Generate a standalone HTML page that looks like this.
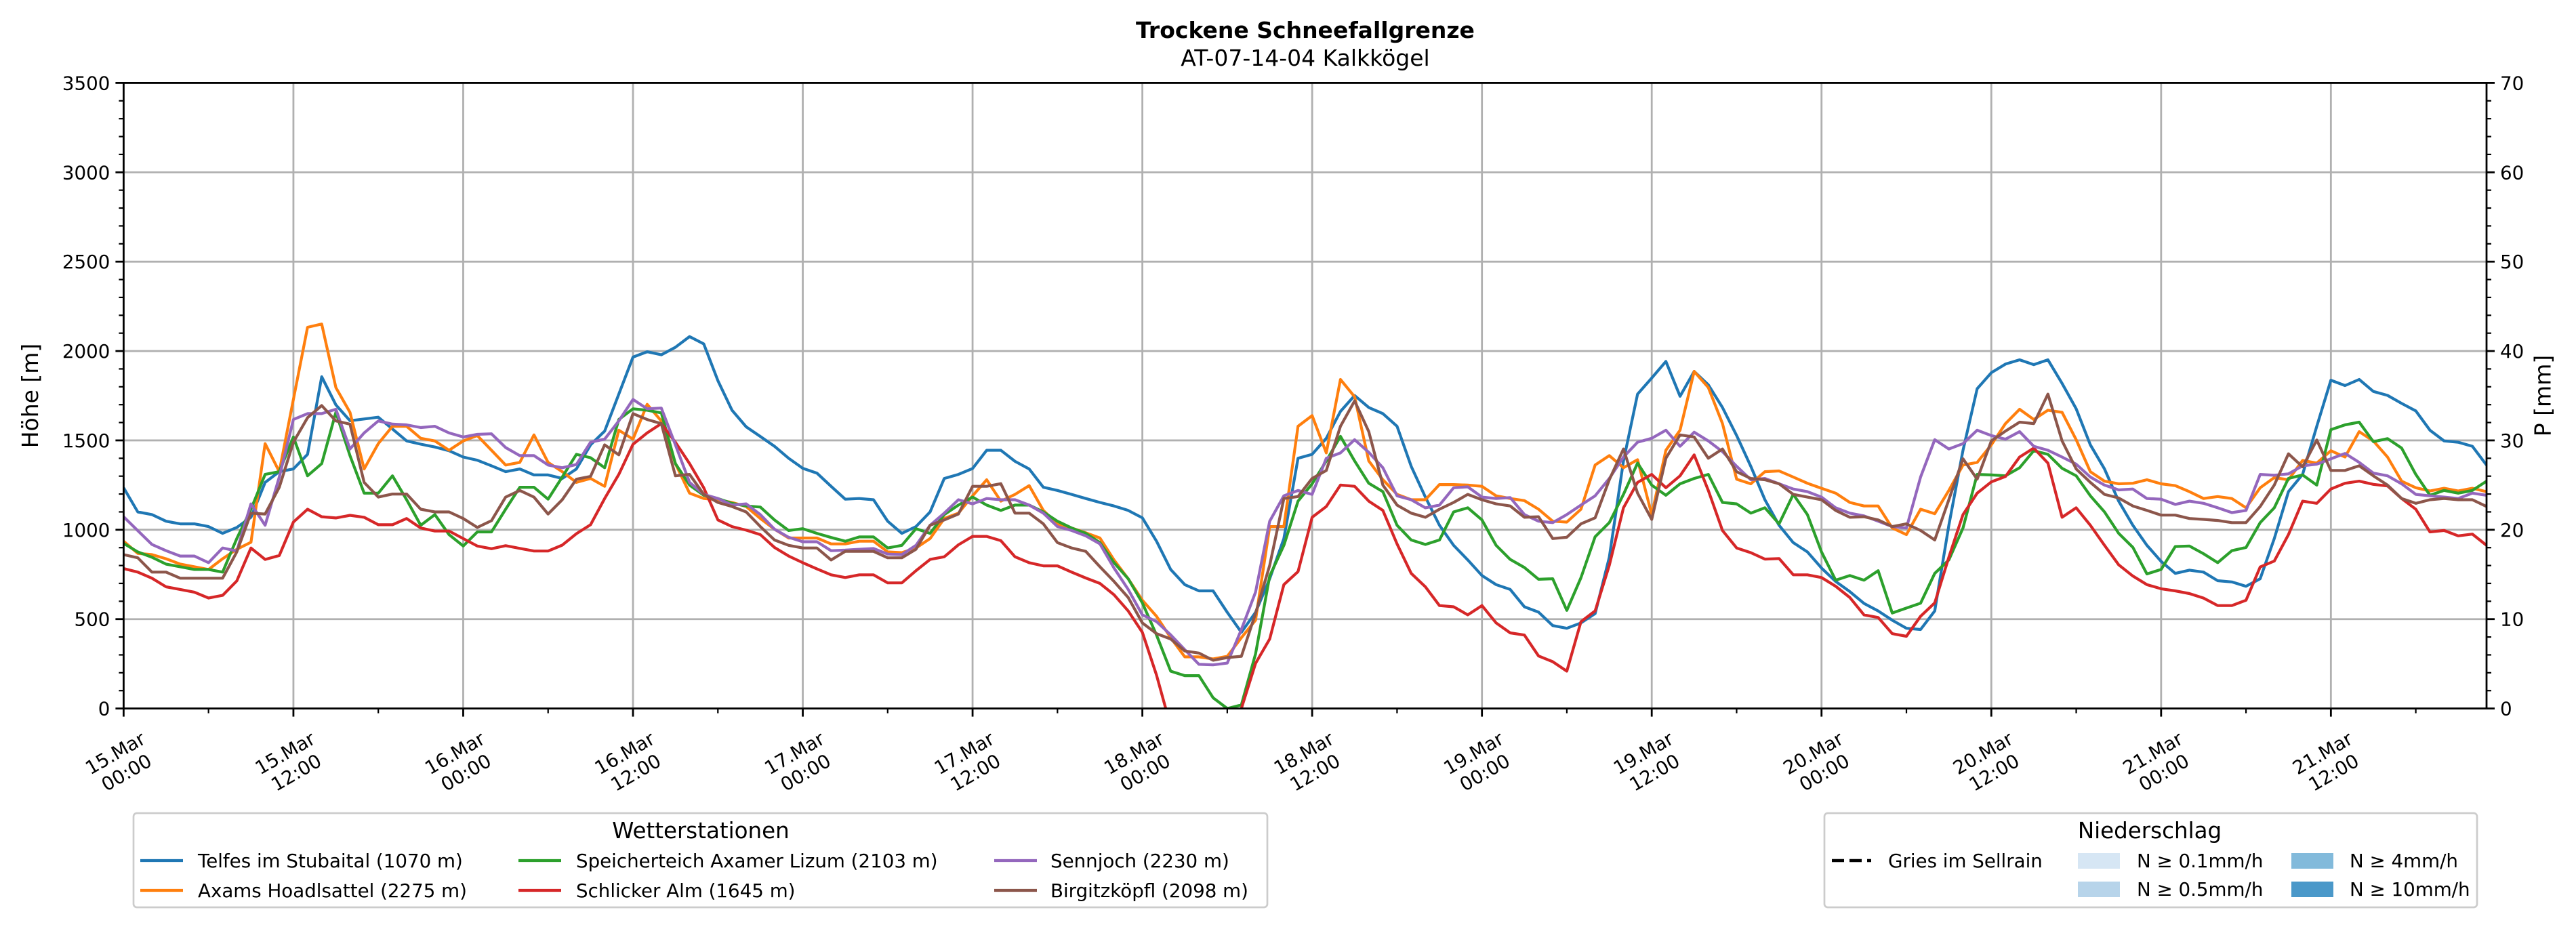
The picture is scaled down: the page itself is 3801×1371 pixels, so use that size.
<!DOCTYPE html>
<html><head><meta charset="utf-8"><style>
html,body{margin:0;padding:0;background:#fff;}
svg{display:block;font-family:"DejaVu Sans","Liberation Sans",sans-serif;}
</style></head><body>
<svg id="chart" width="3801" height="1371" viewBox="0 0 3801 1371" xmlns="http://www.w3.org/2000/svg">
<rect width="3801" height="1371" fill="#fff"/>
<text x="1926" y="56" text-anchor="middle" font-size="33" font-weight="bold">Trockene Schneefallgrenze</text>
<text x="1926" y="97" text-anchor="middle" font-size="33">AT-07-14-04 Kalkkögel</text>
<g id="grid"></g>
<g id="series" clip-path="url(#plotclip)"></g>
<defs><clipPath id="plotclip"><rect x="182.4" y="122.4" width="3486.6" height="923.2"/></clipPath></defs>
<g id="axes"></g>
<text transform="translate(56,584) rotate(-90)" text-anchor="middle" font-size="33">Höhe [m]</text>
<text transform="translate(3752,584) rotate(-90)" text-anchor="middle" font-size="33" dominant-baseline="central">P [mm]</text>

<g>
<rect x="197" y="1200" width="1673" height="139" rx="5" fill="#fff" stroke="#cccccc" stroke-width="2.7"/>
<text x="1034" y="1237" text-anchor="middle" font-size="32.5">Wetterstationen</text>
<g id="leg1"></g>
</g>
<g>
<rect x="2692" y="1200" width="963" height="139" rx="5" fill="#fff" stroke="#cccccc" stroke-width="2.7"/>
<text x="3172" y="1237" text-anchor="middle" font-size="32.5">Niederschlag</text>
<line x1="2703" y1="1270" x2="2761" y2="1270" stroke="#000" stroke-width="4.5" stroke-dasharray="18,8"/>
<text x="2786" y="1280" font-size="27.7">Gries im Sellrain</text>
<rect x="3066" y="1259" width="62" height="23" fill="#d6e6f4"/>
<text x="3153" y="1280" font-size="27.7">N ≥ 0.1mm/h</text>
<rect x="3066" y="1301" width="62" height="23" fill="#b7d4ea"/>
<text x="3153" y="1322" font-size="27.7">N ≥ 0.5mm/h</text>
<rect x="3381" y="1259" width="62" height="23" fill="#82badb"/>
<text x="3467" y="1280" font-size="27.7">N ≥ 4mm/h</text>
<rect x="3381" y="1301" width="62" height="23" fill="#4a98c9"/>
<text x="3467" y="1322" font-size="27.7">N ≥ 10mm/h</text>
</g>
</svg>
<script>
const stationNames = ["Telfes im Stubaital (1070 m)","Axams Hoadlsattel (2275 m)","Speicherteich Axamer Lizum (2103 m)","Schlicker Alm (1645 m)","Sennjoch (2230 m)","Birgitzköpfl (2098 m)"];
const stationColors = ["#1f77b4","#ff7f0e","#2ca02c","#d62728","#9467bd","#8c564b"];
const xTickLabels = ["15.Mar|00:00","15.Mar|12:00","16.Mar|00:00","16.Mar|12:00","17.Mar|00:00","17.Mar|12:00","18.Mar|00:00","18.Mar|12:00","19.Mar|00:00","19.Mar|12:00","20.Mar|00:00","20.Mar|12:00","21.Mar|00:00","21.Mar|12:00"];
const yTicks = [0,500,1000,1500,2000,2500,3000,3500];
const y2Ticks = [0,10,20,30,40,50,60,70];
const telfes = [1235,1100,1085,1048,1033,1033,1018,980,1013,1070,1265,1325,1340,1422,1856,1699,1610,1620,1630,1564,1497,1479,1463,1442,1407,1389,1358,1325,1340,1307,1307,1287,1340,1475,1552,1759,1966,1996,1979,2021,2081,2040,
1834,1669,1576,1522,1467,1400,1344,1317,1243,1171,1175,1168,1048,980,1018,1100,1287,1310,1343,1445,1445,1383,1340,1238,1220,1198,1175,1153,1133,1108,1067,936,778,693,658,658,538,426,538,726,951,1400,
1422,1512,1662,1751,1684,1650,1579,1355,1183,1025,913,831,744,693,666,569,539,464,449,479,531,846,1385,1759,1849,1942,1747,1886,1811,1684,1527,1355,1168,1025,928,876,786,711,654,588,546,494,
449,442,546,1025,1445,1789,1879,1927,1951,1924,1951,1819,1677,1475,1340,1160,1025,913,823,756,774,763,715,708,684,726,951,1213,1310,1579,1837,1807,1841,1774,1752,1707,1665,1557,1497,1490,1467,1362];
const axams = [936,868,861,838,808,793,778,838,891,930,1482,1325,1729,2133,2151,1796,1657,1340,1482,1579,1579,1512,1497,1445,1497,1527,1445,1362,1377,1531,1377,1325,1265,1287,1243,1557,1507,1702,1609,1370,1205,1175,
1168,1153,1130,1063,1003,954,954,954,921,921,936,936,876,872,898,951,1063,1093,1190,1280,1160,1198,1247,1108,1033,1010,983,954,831,726,606,516,396,289,289,277,292,396,494,1018,1018,1579,
1639,1430,1841,1744,1385,1280,1198,1168,1168,1253,1253,1250,1243,1190,1175,1163,1115,1048,1043,1115,1362,1415,1347,1392,1085,1445,1557,1886,1796,1594,1283,1257,1325,1329,1295,1260,1232,1205,1153,1133,1133,1010,
973,1115,1090,1220,1362,1377,1475,1594,1674,1617,1669,1657,1504,1325,1272,1257,1260,1280,1257,1247,1213,1175,1186,1175,1123,1235,1292,1280,1388,1373,1442,1407,1549,1497,1407,1272,1235,1217,1232,1217,1232,1213];
const speicherteich = [924,876,846,808,793,778,778,763,951,1115,1310,1325,1519,1302,1370,1657,1415,1205,1205,1302,1168,1025,1085,973,909,988,988,1115,1238,1238,1171,1295,1422,1403,1347,1617,1677,1669,1654,1370,1250,1193,
1175,1148,1133,1127,1055,996,1006,980,957,936,960,960,898,913,1006,980,1085,1138,1183,1138,1108,1138,1138,1100,1048,1010,980,928,816,726,591,411,209,184,184,60,0,20,305,741,913,1160,
1257,1385,1523,1385,1260,1213,1025,943,918,943,1100,1123,1055,913,834,789,723,726,549,732,961,1040,1198,1373,1250,1193,1257,1287,1310,1153,1145,1093,1123,1033,1198,1085,876,718,744,718,771,534,
562,589,756,831,1010,1310,1307,1302,1347,1442,1422,1344,1302,1190,1100,980,902,753,778,906,909,866,816,883,901,1040,1123,1287,1307,1250,1560,1587,1602,1493,1510,1457,1310,1193,1220,1205,1220,1272];
const schlicker = [783,763,729,681,666,651,618,633,714,898,834,856,1043,1115,1073,1066,1081,1070,1028,1028,1063,1010,993,993,951,909,894,911,896,881,881,914,978,1028,1175,1310,1478,1542,1594,1490,1370,1235,
1055,1018,998,973,901,853,816,781,748,733,748,748,703,703,771,834,849,916,963,963,939,849,816,798,798,763,730,700,636,546,426,187,-100,-250,-300,-200,-100,0,252,389,693,766,
1070,1130,1250,1243,1160,1108,921,756,681,576,569,524,576,479,423,411,294,262,209,486,546,801,1123,1265,1310,1235,1302,1419,1220,996,898,872,836,839,748,748,733,684,621,524,509,419,
404,516,591,846,1085,1205,1268,1298,1407,1457,1373,1070,1123,1025,913,804,741,693,670,658,643,618,576,576,606,792,825,973,1160,1148,1228,1260,1272,1254,1245,1175,1115,988,996,966,976,913];
const sennjoch = [1073,995,918,883,853,853,816,898,881,1145,1025,1295,1617,1650,1650,1674,1452,1542,1609,1591,1587,1572,1579,1542,1519,1534,1537,1460,1415,1415,1362,1347,1365,1490,1507,1609,1729,1677,1681,1475,1265,1198,
1175,1138,1145,1085,1003,958,933,933,883,886,891,895,864,861,913,1025,1093,1168,1145,1175,1168,1168,1138,1093,1018,996,966,921,786,666,524,486,412,329,247,244,254,442,651,1048,1190,1220,
1198,1400,1430,1504,1433,1347,1190,1168,1123,1138,1235,1240,1183,1175,1180,1085,1048,1040,1085,1138,1190,1287,1407,1490,1512,1557,1467,1546,1497,1437,1355,1280,1287,1257,1228,1213,1183,1123,1093,1078,1048,1018,
1010,1295,1504,1452,1482,1557,1527,1507,1549,1467,1445,1407,1367,1295,1250,1223,1228,1175,1171,1142,1160,1148,1123,1096,1108,1310,1305,1313,1358,1367,1397,1427,1377,1317,1302,1257,1198,1190,1183,1175,1205,1193];
const birgitzkoepfl = [861,843,763,763,729,729,729,729,876,1093,1088,1238,1490,1627,1695,1609,1591,1265,1183,1200,1200,1115,1100,1100,1063,1013,1051,1183,1220,1183,1088,1168,1283,1299,1475,1419,1650,1617,1594,1302,1310,1198,
1153,1130,1100,1018,943,913,898,898,831,879,879,879,843,843,891,1025,1055,1088,1243,1243,1258,1093,1093,1033,928,898,879,793,711,621,479,419,389,322,310,270,285,292,532,801,1175,1186,
1287,1332,1579,1721,1549,1250,1138,1093,1070,1115,1153,1198,1168,1145,1133,1070,1073,951,958,1033,1067,1280,1452,1205,1058,1400,1531,1519,1400,1452,1325,1287,1280,1257,1198,1183,1168,1108,1070,1073,1055,1018,
1033,996,943,1168,1397,1283,1497,1552,1602,1594,1759,1497,1340,1265,1198,1178,1133,1108,1082,1082,1063,1058,1052,1040,1040,1130,1250,1425,1352,1502,1332,1332,1358,1302,1250,1175,1148,1168,1175,1168,1168,1130];
const allSeries = [telfes, axams, speicherteich, schlicker, sennjoch, birgitzkoepfl];

const NS="http://www.w3.org/2000/svg";
const L=182.4,R=3669,T=122.4,B=1045.6, HMAX=167;
const xs=h=>L+(R-L)*h/HMAX;
const ys=v=>B-(B-T)*v/3500;
const y2s=v=>B-(B-T)*v/70;
function mk(tag,attrs,parent){const e=document.createElementNS(NS,tag);for(const k in attrs)e.setAttribute(k,attrs[k]);parent.appendChild(e);return e;}
const grid=document.getElementById('grid'), axes=document.getElementById('axes'), ser=document.getElementById('series');
// grid
xTickLabels.forEach((lab,i)=>{const x=xs(i*12);const g=mk('line',{x1:x,x2:x,y1:T,y2:B,stroke:'#b0b0b0','stroke-width':2.8},grid);

});
yTicks.forEach(v=>{const y=ys(v);const g=mk('line',{x1:L,x2:R,y1:y,y2:y,stroke:'#b0b0b0','stroke-width':2.8},grid);

});
// series
allSeries.forEach((s,i)=>{const d=s.map((v,h)=>(h?'L':'M')+xs(h).toFixed(1)+','+ys(v).toFixed(1)).join('');
const p=mk('path',{d:d,fill:'none',stroke:stationColors[i],'stroke-width':4.2,'stroke-linejoin':'round'},ser);

});
// spines
const sp=mk('rect',{x:L,y:T,width:R-L,height:B-T,fill:'none',stroke:'#000','stroke-width':2.8},axes);


// x ticks
for(let h=0;h<=HMAX;h+=6){const maj=h%12===0;const x=xs(h);mk('line',{x1:x,x2:x,y1:B,y2:B+(maj?12:7),stroke:'#000','stroke-width':maj?2.8:2.2},axes);}
xTickLabels.forEach((lab,i)=>{const x=xs(i*12);const parts=lab.split('|');
const g=mk('g',{transform:`translate(${x-4},1126) rotate(-30)`},axes);


mk('text',{x:0,y:-7,'text-anchor':'middle','font-size':27.7},g).textContent=parts[0];
mk('text',{x:0,y:26,'text-anchor':'middle','font-size':27.7},g).textContent=parts[1];});
// y ticks
for(let v=0;v<=3500;v+=100){const y=ys(v);const maj=v%500===0;mk('line',{x1:L,x2:L-(maj?12:7),y1:y,y2:y,stroke:'#000','stroke-width':maj?2.8:2.2},axes);}
yTicks.forEach(v=>{const t=mk('text',{x:L-20,y:ys(v)+10,'text-anchor':'end','font-size':27.7},axes);t.textContent=v;

});
for(let v=0;v<=70;v+=2){const y=y2s(v);const maj=v%10===0;mk('line',{x1:R,x2:R+(maj?12:7),y1:y,y2:y,stroke:'#000','stroke-width':maj?2.8:2.2},axes);}
y2Ticks.forEach(v=>{const t=mk('text',{x:R+20,y:y2s(v)+10,'text-anchor':'start','font-size':27.7},axes);t.textContent=v;

});
// legend
const leg=document.getElementById('leg1');
const lx=[[207,292],[765,850],[1467,1550]];
stationNames.forEach((n,i)=>{const c=Math.floor(i/2),r=i%2;const y=1270+r*44;
const g=mk('g',{},leg);


mk('line',{x1:lx[c][0],x2:lx[c][0]+63,y1:y,y2:y,stroke:stationColors[i],'stroke-width':4.2},g);
mk('text',{x:lx[c][1],y:y+10,'font-size':27.7},g).textContent=n;});
</script>
</body></html>
